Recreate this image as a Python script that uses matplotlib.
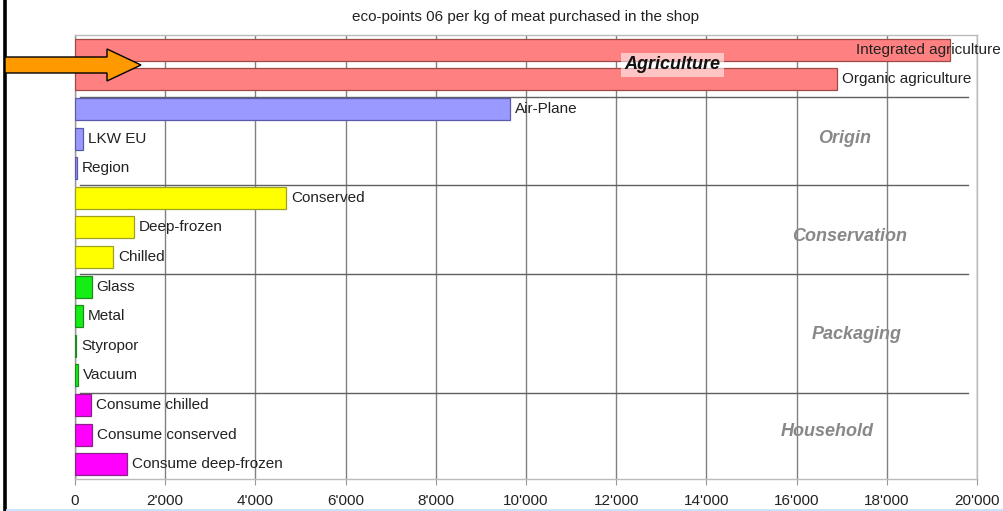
import matplotlib
matplotlib.use("Agg")
import matplotlib.pyplot as plt
from matplotlib.patches import Polygon
from matplotlib.lines import Line2D
from matplotlib.ticker import FuncFormatter
from matplotlib.transforms import Affine2D

# Eco-points 06 per kg of meat, by life-cycle step
categories = [
    "Integrated agriculture", "Organic agriculture",
    "Air-Plane", "LKW EU", "Region",
    "Conserved", "Deep-frozen", "Chilled",
    "Glass", "Metal", "Styropor", "Vacuum",
    "Consume chilled", "Consume conserved", "Consume deep-frozen",
]
values = [
    19400, 16900,
    9650, 170, 50,
    4680, 1300, 850,
    370, 170, 30, 60,
    350, 370, 1150,
]
groups = ["Agriculture", "Origin", "Conservation", "Packaging", "Household"]
group_sizes = [2, 3, 3, 4, 3]
group_faces = ["#FF8080", "#9999FF", "#FFFF00", "#14EE14", "#FF00FF"]
group_edges = ["#A04848", "#5A5AA8", "#A0A020", "#208A20", "#8A208A"]
xticks = [0, 2000, 4000, 6000, 8000, 10000, 12000, 14000, 16000, 18000, 20000]
title = "eco-points 06 per kg of meat purchased in the shop"

W, H = 1004, 511
fig = plt.figure(figsize=(W / 100, H / 100), dpi=100)
plt.rcParams["font.family"] = ["Liberation Sans", "DejaVu Sans"]

ax = fig.add_axes([75 / W, 1 - 479 / H, (977 - 75) / W, (479 - 35) / H])

faces, edges = [], []
for size, fc, ec in zip(group_sizes, group_faces, group_edges):
    faces += [fc] * size
    edges += [ec] * size

ypos = list(range(len(categories)))
ax.barh(ypos, values, height=0.74, color=faces, edgecolor=edges,
        linewidth=0.9, zorder=3)

ax.set_xlim(0, 20000)
ax.set_ylim(len(categories) - 0.5, -0.5)
ax.set_xticks(xticks)
ax.xaxis.set_major_formatter(
    FuncFormatter(lambda v, p: f"{int(v):,}".replace(",", "'")))
ax.set_yticks([])
ax.tick_params(axis="x", length=4, color="#999999", labelsize=11,
               labelcolor="#222222", pad=7)
ax.grid(axis="x", color="#808080", linewidth=1.0, zorder=1)
for side in ("top", "right", "bottom", "left"):
    ax.spines[side].set_color("#BBBBBB")
    ax.spines[side].set_linewidth(1.0)
ax.spines["left"].set_color("#999999")

# separators between groups
boundary = 0
for size in group_sizes[:-1]:
    boundary += size
    ax.plot([100, 19800], [boundary - 0.42, boundary - 0.42],
            color="#606060", linewidth=1.0, zorder=2)

# bar labels
for i, (name, v) in enumerate(zip(categories, values)):
    if i == 0:
        ax.text(20520, i, name, ha="right", va="center", fontsize=11,
                color="#222222", zorder=5, clip_on=False)
    else:
        ax.annotate(name, (v, i), xytext=(3.5, 0), textcoords="offset points",
                    ha="left", va="center", fontsize=11, color="#222222",
                    zorder=5, annotation_clip=False)

# group labels
ax.text(13240, 0.51, groups[0], ha="center", va="center", fontsize=13,
        fontweight="bold", style="italic", color="#111111", zorder=6,
        bbox=dict(boxstyle="square,pad=0.2", facecolor="white",
                  edgecolor="none", alpha=0.55))
group_label_pos = [(17070, 3.0), (17180, 6.3), (17340, 9.63), (16670, 12.9)]
for name, (gx, gy) in zip(groups[1:], group_label_pos):
    ax.text(gx, gy, name, ha="center", va="center", fontsize=13,
            fontweight="bold", style="italic", color="#888888", zorder=6)

ax.set_title(title, fontsize=11, color="#222222", pad=10)

# pixel-space decorations
px = Affine2D().scale(1 / W, 1 / H) + fig.transFigure
arrow = [(5, 57), (107, 57), (107, 49), (141, 65), (107, 81), (107, 73), (5, 73)]
fig.patches.append(Polygon([(x, H - y) for x, y in arrow], closed=True,
                           facecolor="#FF9900", edgecolor="black",
                           linewidth=1.0, transform=px, zorder=10))
fig.lines.append(Line2D([5.5, 5.5], [0, H], color="black", linewidth=2.6,
                        transform=px))
fig.lines.append(Line2D([7, W], [1.2, 1.2], color="#C6E2FF", linewidth=2.0,
                        transform=px))

fig.savefig("out.png", dpi=100)
